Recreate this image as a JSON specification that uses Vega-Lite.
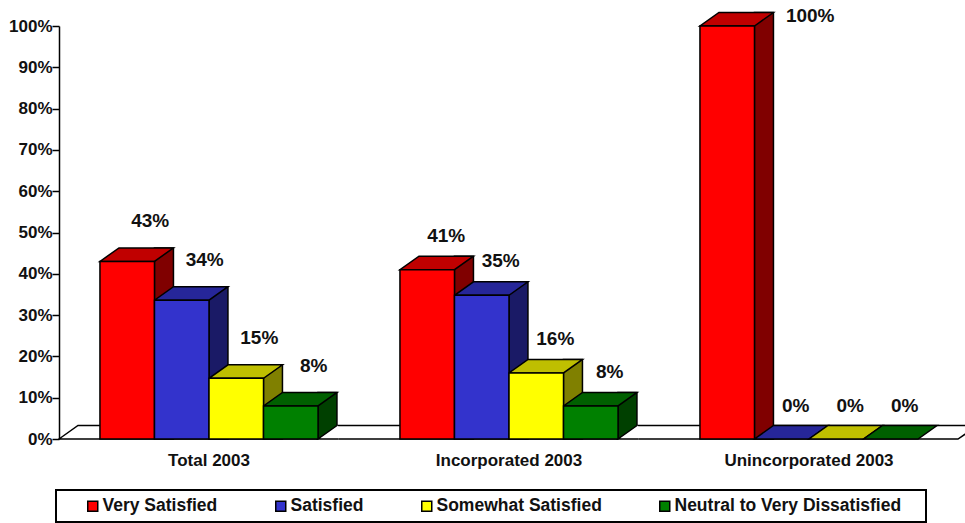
{
"$schema":"https://vega.github.io/schema/vega-lite/v6.json",
"width":900,"height":413,
"autosize":"none",
"padding":{"left":59,"top":26,"right":6,"bottom":84},
"background":"white",
"config":{"view":{"stroke":null},"font":"Liberation Sans","legend":{"strokeWidth":2}},
"data":{"values":[
{"group":"Total 2003","series":"Very Satisfied","value":0.43},
{"group":"Total 2003","series":"Satisfied","value":0.336},
{"group":"Total 2003","series":"Somewhat Satisfied","value":0.147},
{"group":"Total 2003","series":"Neutral to Very Dissatisfied","value":0.08},
{"group":"Incorporated 2003","series":"Very Satisfied","value":0.41},
{"group":"Incorporated 2003","series":"Satisfied","value":0.348},
{"group":"Incorporated 2003","series":"Somewhat Satisfied","value":0.16},
{"group":"Incorporated 2003","series":"Neutral to Very Dissatisfied","value":0.08},
{"group":"Unincorporated 2003","series":"Very Satisfied","value":1.0},
{"group":"Unincorporated 2003","series":"Satisfied","value":0},
{"group":"Unincorporated 2003","series":"Somewhat Satisfied","value":0},
{"group":"Unincorporated 2003","series":"Neutral to Very Dissatisfied","value":0}
]},
"encoding":{
"x":{"field":"group","type":"nominal","sort":null,"title":null,
"scale":{"type":"band","domain":["Total 2003","Incorporated 2003","Unincorporated 2003"],"paddingInner":0.273,"paddingOuter":0.1365},
"axis":{"domain":false,"ticks":false,"labelAngle":0,"labelFont":"Liberation Sans","labelFontWeight":"bold","labelFontSize":17,"labelColor":"#111111","labelPadding":13}},
"xOffset":{"field":"series","type":"nominal","scale":{"type":"band","domain":["Very Satisfied","Satisfied","Somewhat Satisfied","Neutral to Very Dissatisfied"],"paddingInner":0,"paddingOuter":0}},
"y":{"field":"value","type":"quantitative","stack":null,"title":null,
"scale":{"domain":[0,1],"nice":false},
"axis":{"values":[0,0.1,0.2,0.3,0.4,0.5,0.6,0.7,0.8,0.9,1],"format":".0%","grid":false,"domainColor":"#000000","domainWidth":1.5,"tickColor":"#000000","tickWidth":1.5,"tickSize":7,"labelPadding":0,"labelFont":"Liberation Sans","labelFontWeight":"bold","labelFontSize":17,"labelColor":"#111111"}}
},
"layer":[
{"transform":[{"filter":"datum.group === 'Incorporated 2003' && datum.series === 'Satisfied'"}],
 "mark":{"type":"point","filled":true,"fill":"white","fillOpacity":1,"stroke":"black","strokeWidth":1.5,"opacity":1,"size":4,"shape":"M-422.75 0 L-403.75 -13.5 L496.25 -13.5 L476.25 0 Z"},
 "encoding":{"y":{"datum":0,"type":"quantitative"}}},
{"transform":[{"filter":"datum.value > 0"}],
 "mark":{"type":"bar","width":19,"yOffset":-13.5,"y2Offset":0,"stroke":"black","strokeWidth":1.5},
 "encoding":{
  "xOffset":{"field":"series","type":"nominal","scale":{"type":"band","domain":["Very Satisfied","Satisfied","Somewhat Satisfied","Neutral to Very Dissatisfied"],"range":[36.75,254.75],"paddingInner":0,"paddingOuter":0}},
  "color":{"field":"series","type":"nominal","legend":null,"scale":{"domain":["Very Satisfied","Satisfied","Somewhat Satisfied","Neutral to Very Dissatisfied"],"range":["#800000","#1A1A66","#808000","#004000"]}}}},
{"transform":[{"filter":"datum.value > 0 && datum.series === 'Neutral to Very Dissatisfied'"}],
 "mark":{"type":"point","filled":true,"fill":"white","fillOpacity":1,"opacity":1,"size":4,"shape":"M27.25 0 L46.25 -13.5 L47.5 -12.5 L47.5 1 L27.25 1 Z"},
 "encoding":{"y":{"datum":0,"type":"quantitative"}}},
{"transform":[{"filter":"datum.value > 0 && datum.series === 'Neutral to Very Dissatisfied'"}],
 "mark":{"type":"point","filled":false,"stroke":"black","strokeWidth":1.5,"opacity":1,"size":4,"shape":"M47.5 0 L27.25 0 L46.25 -13.5"},
 "encoding":{"y":{"datum":0,"type":"quantitative"}}},
{"mark":{"type":"point","filled":true,"fillOpacity":1,"stroke":"black","strokeWidth":1.5,"opacity":1,"size":4,"shape":"M-27.25 0 L27.25 0 L46.25 -13.5 L-8.25 -13.5 Z"},
 "encoding":{"color":{"field":"series","type":"nominal","legend":null,"scale":{"domain":["Very Satisfied","Satisfied","Somewhat Satisfied","Neutral to Very Dissatisfied"],"range":["#C00000","#262699","#BFBF00","#006000"]}}}},
{"transform":[{"filter":"datum.value > 0"}],
 "mark":{"type":"bar","stroke":"black","strokeWidth":1.5},
 "encoding":{"color":{"field":"series","type":"nominal","title":" ",
  "scale":{"domain":["Very Satisfied","Satisfied","Somewhat Satisfied","Neutral to Very Dissatisfied"],"range":["#FF0000","#3333CC","#FFFF00","#008000"]},
  "legend":{"orient":"none","legendX":-3,"legendY":464,"direction":"horizontal","columns":4,"columnPadding":33,"titleOrient":"right","titlePadding":18,"strokeColor":"black","padding":7,"fillColor":"white","symbolType":"square","symbolSize":100,"symbolOffset":21,"symbolStrokeColor":"black","symbolStrokeWidth":1.5,"symbolOpacity":1,"labelOffset":1,"labelFont":"Liberation Sans","labelFontWeight":"bold","labelFontSize":17.5,"labelColor":"#111111","labelLimit":300}}}},
{"transform":[{"filter":"datum.group === 'Total 2003'"}],
 "mark":{"type":"text","dx":23,"dy":-40,"font":"Liberation Sans","fontWeight":"bold","fontSize":19,"color":"#111111"},
 "encoding":{"text":{"field":"value","type":"quantitative","format":".0%"}}},
{"transform":[{"filter":"datum.group === 'Incorporated 2003'"}],
 "mark":{"type":"text","dx":19,"dy":-34,"font":"Liberation Sans","fontWeight":"bold","fontSize":19,"color":"#111111"},
 "encoding":{"text":{"field":"value","type":"quantitative","format":".0%"}}},
{"transform":[{"filter":"datum.group === 'Unincorporated 2003' && datum.value === 0"}],
 "mark":{"type":"text","dx":14,"dy":-33,"font":"Liberation Sans","fontWeight":"bold","fontSize":19,"color":"#111111"},
 "encoding":{"text":{"field":"value","type":"quantitative","format":".0%"}}},
{"transform":[{"filter":"datum.value === 1"}],
 "mark":{"type":"text","dx":83,"dy":-10,"font":"Liberation Sans","fontWeight":"bold","fontSize":19,"color":"#111111"},
 "encoding":{"text":{"field":"value","type":"quantitative","format":".0%"}}}
],
"resolve":{"scale":{"color":"independent","xOffset":"independent"}}
}
